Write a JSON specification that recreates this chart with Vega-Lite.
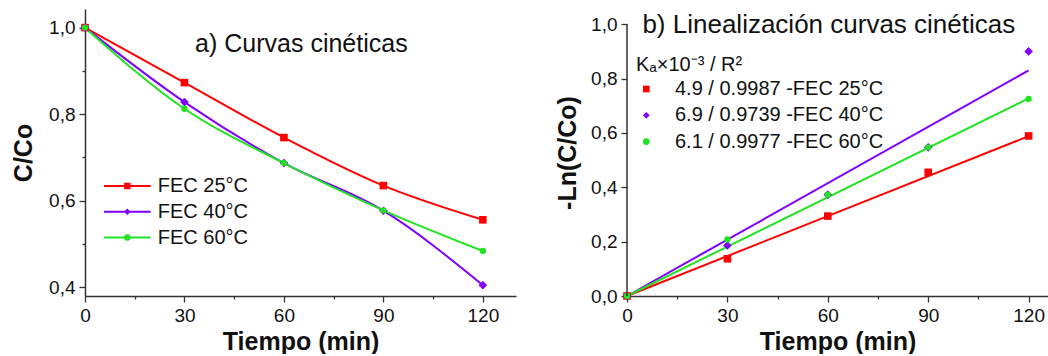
{
  "$schema": "https://vega.github.io/schema/vega-lite/v6.json",
  "padding": {"left": 11, "top": 9, "right": 0, "bottom": 0},
  "spacing": 39,
  "background": "white",
  "config": {
    "view": {"stroke": null},
    "font": "Liberation Sans",
    "axis": {
      "grid": false,
      "domainColor": "#333333",
      "domainWidth": 1.5,
      "tickColor": "#333333",
      "tickWidth": 1.3,
      "labelColor": "#111111",
      "titleColor": "#111111",
      "labelFont": "Liberation Sans",
      "titleFont": "Liberation Sans",
      "labelFontSize": 19,
      "titleFontSize": 25,
      "titleFontWeight": "bold",
      "labelOverlap": false,
      "labelFlush": false
    },
    "legend": {"labelFont": "Liberation Sans", "titleFont": "Liberation Sans", "labelColor": "#111111", "titleColor": "#111111", "labelLimit": 400}
  },
  "datasets": {
    "kin": [
      {"t": 0, "cc": 1.0, "s": "FEC 25°C"},
      {"t": 30, "cc": 0.873, "s": "FEC 25°C"},
      {"t": 60, "cc": 0.746, "s": "FEC 25°C"},
      {"t": 90, "cc": 0.635, "s": "FEC 25°C"},
      {"t": 120, "cc": 0.556, "s": "FEC 25°C"},
      {"t": 0, "cc": 1.0, "s": "FEC 40°C"},
      {"t": 30, "cc": 0.828, "s": "FEC 40°C"},
      {"t": 60, "cc": 0.687, "s": "FEC 40°C"},
      {"t": 90, "cc": 0.577, "s": "FEC 40°C"},
      {"t": 120, "cc": 0.405, "s": "FEC 40°C"},
      {"t": 0, "cc": 1.0, "s": "FEC 60°C"},
      {"t": 30, "cc": 0.8125, "s": "FEC 60°C"},
      {"t": 60, "cc": 0.687, "s": "FEC 60°C"},
      {"t": 90, "cc": 0.578, "s": "FEC 60°C"},
      {"t": 120, "cc": 0.484, "s": "FEC 60°C"}
    ],
    "lin": [
      {"t": 0, "v": 0, "s": "4.9 / 0.9987 -FEC 25°C"},
      {"t": 30, "v": 0.137, "s": "4.9 / 0.9987 -FEC 25°C"},
      {"t": 60, "v": 0.294, "s": "4.9 / 0.9987 -FEC 25°C"},
      {"t": 90, "v": 0.455, "s": "4.9 / 0.9987 -FEC 25°C"},
      {"t": 120, "v": 0.589, "s": "4.9 / 0.9987 -FEC 25°C"},
      {"t": 0, "v": 0, "s": "6.9 / 0.9739 -FEC 40°C"},
      {"t": 30, "v": 0.186, "s": "6.9 / 0.9739 -FEC 40°C"},
      {"t": 60, "v": 0.373, "s": "6.9 / 0.9739 -FEC 40°C"},
      {"t": 90, "v": 0.547, "s": "6.9 / 0.9739 -FEC 40°C"},
      {"t": 120, "v": 0.900, "s": "6.9 / 0.9739 -FEC 40°C"},
      {"t": 0, "v": 0, "s": "6.1 / 0.9977 -FEC 60°C"},
      {"t": 30, "v": 0.208, "s": "6.1 / 0.9977 -FEC 60°C"},
      {"t": 60, "v": 0.373, "s": "6.1 / 0.9977 -FEC 60°C"},
      {"t": 90, "v": 0.547, "s": "6.1 / 0.9977 -FEC 60°C"},
      {"t": 120, "v": 0.725, "s": "6.1 / 0.9977 -FEC 60°C"}
    ],
    "fit": [
      {"t": 0, "v": 0, "s": "4.9 / 0.9987 -FEC 25°C"},
      {"t": 120, "v": 0.588, "s": "4.9 / 0.9987 -FEC 25°C"},
      {"t": 0, "v": 0, "s": "6.9 / 0.9739 -FEC 40°C"},
      {"t": 120, "v": 0.83, "s": "6.9 / 0.9739 -FEC 40°C"},
      {"t": 0, "v": 0, "s": "6.1 / 0.9977 -FEC 60°C"},
      {"t": 120, "v": 0.727, "s": "6.1 / 0.9977 -FEC 60°C"}
    ]
  },
  "resolve": {
    "scale": {"color": "independent", "shape": "independent", "stroke": "independent", "size": "independent"},
    "legend": {"color": "independent", "shape": "independent", "stroke": "independent"}
  },
  "hconcat": [
    {
      "width": 431,
      "height": 287,
      "layer": [
        {
          "data": {"name": "kin"},
          "mark": {"type": "line", "strokeWidth": 2, "interpolate": "monotone"},
          "encoding": {
            "x": {
              "field": "t", "type": "quantitative",
              "scale": {"domain": [0, 130], "nice": false, "zero": false},
              "axis": {
                "title": "Tiempo (min)",
                "values": [0, 15, 30, 45, 60, 75, 90, 105, 120],
                "labelExpr": "datum.value % 30 == 0 ? datum.label : ''",
                "tickSize": {"condition": {"test": "datum.value % 30 != 0", "value": 3}, "value": 6},
                "labelPadding": 4,
                "titlePadding": 4
              }
            },
            "y": {
              "field": "cc", "type": "quantitative",
              "scale": {"domain": [0.38, 1.043], "nice": false, "zero": false},
              "axis": {
                "title": "C/Co",
                "values": [0.4, 0.5, 0.6, 0.7, 0.8, 0.9, 1.0],
                "labelExpr": "round(datum.value*10) % 2 == 0 ? replace(format(datum.value, '.1f'), '.', ',') : ''",
                "tickSize": {"condition": {"test": "round(datum.value*10) % 2 == 1", "value": 3}, "value": 6},
                "labelPadding": 4,
                "titlePadding": 12
              }
            },
            "stroke": {
              "field": "s", "type": "nominal",
              "scale": {"domain": ["FEC 60°C", "FEC 40°C", "FEC 25°C"], "range": ["#22e322", "#8000ff", "#ff0000"]},
              "legend": {
                "title": null, "orient": "none", "legendX": 32.35, "legendY": 167,
                "values": ["FEC 25°C", "FEC 40°C", "FEC 60°C"],
                "symbolType": "M-7.37,0H7.37", "symbolSize": 40, "symbolStrokeWidth": 2,
                "symbolOffset": 0, "labelOffset": 20.35,
                "labelFontSize": 20, "labelOpacity": 0, "rowPadding": 5.8, "padding": 0
              }
            }
          }
        },
        {
          "data": {"name": "kin"},
          "mark": {"type": "point", "filled": true, "opacity": 1},
          "encoding": {
            "x": {"field": "t", "type": "quantitative"},
            "y": {"field": "cc", "type": "quantitative"},
            "size": {
              "field": "s", "type": "nominal",
              "scale": {"domain": ["FEC 40°C", "FEC 25°C", "FEC 60°C"], "range": [75, 40, 42]},
              "legend": null
            },
            "color": {
              "field": "s", "type": "nominal",
              "scale": {"domain": ["FEC 25°C", "FEC 40°C", "FEC 60°C"], "range": ["#ff0000", "#8000ff", "#22e322"]},
              "legend": {
                "title": null, "orient": "none", "legendX": 32.35, "legendY": 167,
                "symbolSize": 42, "symbolOffset": 0, "labelOffset": 20.35,
                "labelFontSize": 20, "rowPadding": 5.8, "padding": 0
              }
            },
            "shape": {
              "field": "s", "type": "nominal",
              "scale": {"domain": ["FEC 25°C", "FEC 40°C", "FEC 60°C"], "range": ["square", "diamond", "circle"]},
              "legend": {
                "title": null, "orient": "none", "legendX": 32.35, "legendY": 167,
                "symbolSize": 42, "symbolOffset": 0, "labelOffset": 20.35,
                "labelFontSize": 20, "rowPadding": 5.8, "padding": 0
              }
            }
          }
        },
        {
          "data": {"values": [{}]},
          "mark": {"type": "text", "align": "left", "baseline": "alphabetic", "fontSize": 25, "font": "Liberation Sans", "color": "#111111"},
          "encoding": {
            "x": {"datum": 33.2, "type": "quantitative"},
            "y": {"datum": 0.943, "type": "quantitative"},
            "text": {"value": "a) Curvas cinéticas"}
          }
        }
      ]
    },
    {
      "width": 421,
      "height": 287,
      "layer": [
        {
          "data": {"name": "fit"},
          "mark": {"type": "line", "strokeWidth": 2},
          "encoding": {
            "x": {
              "field": "t", "type": "quantitative",
              "scale": {"domain": [0, 125.8], "nice": false, "zero": false},
              "axis": {
                "title": "Tiempo (min)",
                "values": [0, 15, 30, 45, 60, 75, 90, 105, 120],
                "labelExpr": "datum.value % 30 == 0 ? datum.label : ''",
                "tickSize": {"condition": {"test": "datum.value % 30 != 0", "value": 3}, "value": 6},
                "labelPadding": 4,
                "titlePadding": 4
              }
            },
            "y": {
              "field": "v", "type": "quantitative",
              "scale": {"domain": [0, 1.056], "nice": false, "zero": false},
              "axis": {
                "title": "-Ln(C/Co)",
                "domain": false,
                "values": [0, 0.1, 0.2, 0.3, 0.4, 0.5, 0.6, 0.7, 0.8, 0.9, 1.0],
                "labelExpr": "round(datum.value*10) % 2 == 0 ? replace(format(datum.value, '.1f'), '.', ',') : ''",
                "tickSize": {"condition": {"test": "round(datum.value*10) % 2 == 1", "value": 3}, "value": 6},
                "labelPadding": 4,
                "titlePadding": 10
              }
            },
            "stroke": {
              "field": "s", "type": "nominal",
              "scale": {"domain": ["6.1 / 0.9977 -FEC 60°C", "6.9 / 0.9739 -FEC 40°C", "4.9 / 0.9987 -FEC 25°C"], "range": ["#22e322", "#8000ff", "#ff0000"]},
              "legend": null
            }
          }
        },
        {
          "data": {"name": "lin"},
          "mark": {"type": "point", "filled": true, "opacity": 1},
          "encoding": {
            "x": {"field": "t", "type": "quantitative"},
            "y": {"field": "v", "type": "quantitative"},
            "size": {
              "field": "s", "type": "nominal",
              "scale": {"domain": ["6.9 / 0.9739 -FEC 40°C", "4.9 / 0.9987 -FEC 25°C", "6.1 / 0.9977 -FEC 60°C"], "range": [75, 40, 42]},
              "legend": null
            },
            "color": {
              "field": "s", "type": "nominal",
              "scale": {"domain": ["4.9 / 0.9987 -FEC 25°C", "6.9 / 0.9739 -FEC 40°C", "6.1 / 0.9977 -FEC 60°C"], "range": ["#ff0000", "#8000ff", "#22e322"]},
              "legend": {
                "title": "Kₐ×10⁻³ / R²", "orient": "none", "legendX": 9, "legendY": 46,
                "titleFontWeight": "normal", "titleFontSize": 20, "labelFontSize": 20,
                "symbolSize": 45, "symbolOffset": 0.3, "labelOffset": 18.7, "rowPadding": 6.3, "titlePadding": 4, "padding": 0
              }
            },
            "shape": {
              "field": "s", "type": "nominal",
              "scale": {"domain": ["4.9 / 0.9987 -FEC 25°C", "6.9 / 0.9739 -FEC 40°C", "6.1 / 0.9977 -FEC 60°C"], "range": ["square", "diamond", "circle"]},
              "legend": {
                "title": "Kₐ×10⁻³ / R²", "orient": "none", "legendX": 9, "legendY": 46,
                "titleFontWeight": "normal", "titleFontSize": 20, "labelFontSize": 20,
                "symbolSize": 45, "symbolOffset": 0.3, "labelOffset": 18.7, "rowPadding": 6.3, "titlePadding": 4, "padding": 0
              }
            }
          }
        },
        {
          "data": {"values": [{}]},
          "mark": {"type": "rule", "color": "#333333", "strokeWidth": 1.5},
          "encoding": {
            "x": {"datum": 0, "type": "quantitative"},
            "y": {"datum": 0, "type": "quantitative"},
            "y2": {"datum": 1}
          }
        },
        {
          "data": {"values": [{}]},
          "mark": {"type": "text", "align": "left", "baseline": "alphabetic", "fontSize": 26, "font": "Liberation Sans", "color": "#111111"},
          "encoding": {
            "x": {"datum": 4.6, "type": "quantitative"},
            "y": {"datum": 0.968, "type": "quantitative"},
            "text": {"value": "b) Linealización curvas cinéticas"}
          }
        }
      ]
    }
  ]
}
